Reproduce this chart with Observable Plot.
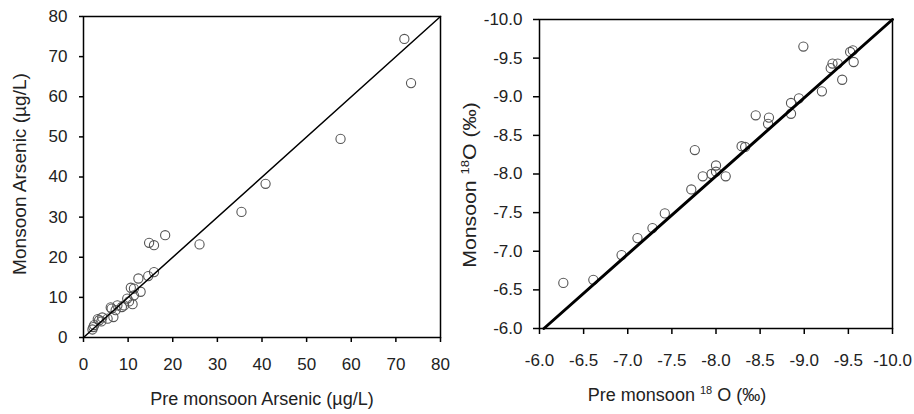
<!DOCTYPE html>
<html><head><meta charset="utf-8">
<script src="https://cdn.jsdelivr.net/npm/d3@7"></script>
<script src="https://cdn.jsdelivr.net/npm/@observablehq/plot@0.6"></script>
<style>
body{margin:0;background:#fff;font-family:"Liberation Sans",Arial,sans-serif;}
#wrap{position:relative;width:914px;height:414px;overflow:hidden;}
.p{position:absolute;top:0;}
.lab{position:absolute;font-size:18px;color:#222;white-space:nowrap;line-height:1;}
.rotL{transform:translate(-50%,-50%) rotate(-90deg) scaleX(1.06);}
.rotR{transform:translate(-50%,-50%) rotate(-90deg) scaleX(1.18);}
.hor{transform:translate(-50%,-50%);}
sup{font-size:11px;vertical-align:7px;line-height:0;}
</style></head><body>
<div id="wrap"></div>
<script>
// Left panel: Arsenic (µg/L)
const arsPre = [71.9,73.4,57.6,40.8,35.4,26.0,18.3,14.7,15.8,15.8,14.5,12.3,12.8,10.6,11.3,11.0,11.3,9.8,9.1,8.6,7.6,6.1,7.2,6.7,5.4,4.2,3.5,3.2,2.4,2.0,6.3,4.0,2.2,10.2];
const arsMon = [74.4,63.4,49.5,38.3,31.3,23.2,25.5,23.6,23.0,16.3,15.3,14.7,11.4,12.4,12.2,8.3,10.5,9.7,8.0,7.6,8.0,7.5,6.8,5.1,4.7,5.0,4.3,4.6,3.1,2.0,7.2,4.0,2.6,9.0];
const arsLineX = [0,80];
const arsLineY = [0,80];
const arsTicks = [0,10,20,30,40,50,60,70,80];

// Right panel: δ18O (‰)
const oPre = [-6.27,-6.61,-6.93,-7.11,-7.28,-7.42,-7.72,-7.76,-7.85,-7.95,-8.00,-8.00,-8.11,-8.29,-8.33,-8.45,-8.60,-8.59,-8.85,-8.85,-8.94,-8.99,-9.20,-9.30,-9.32,-9.38,-9.43,-9.52,-9.55,-9.56];
const oMon = [-6.59,-6.63,-6.95,-7.17,-7.30,-7.49,-7.80,-8.31,-7.97,-8.00,-8.11,-8.03,-7.97,-8.36,-8.35,-8.76,-8.73,-8.65,-8.78,-8.92,-8.98,-9.65,-9.07,-9.37,-9.43,-9.43,-9.22,-9.58,-9.60,-9.45];
const oLineX = [-6.05,-10];
const oLineY = [-6,-10];
const oTicks = [-6,-6.5,-7,-7.5,-8,-8.5,-9,-9.5,-10];

const style = {fontSize:"17px",fontFamily:"Liberation Sans, Arial, sans-serif",color:"#222",background:"transparent",overflow:"visible"};
const fs = 17;
const wrap = document.getElementById("wrap");

const left = Plot.plot({
  width:450,height:414,marginTop:16,marginBottom:77,marginLeft:83,marginRight:10,
  style,
  x:{domain:[0,80]},
  y:{domain:[0,80]},
  marks:[
    Plot.axisX({ticks:arsTicks,tickSize:5,tickPadding:15,label:null,fontSize:fs,stroke:"#000",strokeWidth:1.5}),
    Plot.axisY({ticks:arsTicks,tickSize:4,tickPadding:12,label:null,fontSize:fs,stroke:"#000",strokeWidth:1.5}),
    Plot.dot(arsPre.map((d,i)=>({x:d,y:arsMon[i]})),{x:"x",y:"y",r:4.6,stroke:"#555",strokeWidth:1.1,fill:"none"}),
    Plot.line(arsLineX.map((d,i)=>({x:d,y:arsLineY[i]})),{x:"x",y:"y",stroke:"#000",strokeWidth:1.5}),
    Plot.frame({stroke:"#000",strokeWidth:1.5})
  ]
});
left.classList.add("p"); left.style.left="0px";
wrap.appendChild(left);

const right = Plot.plot({
  width:454,height:414,marginTop:19,marginBottom:86,marginLeft:79,marginRight:22,
  style,
  x:{domain:[-6,-10]},
  y:{domain:[-6,-10]},
  marks:[
    Plot.axisX({ticks:oTicks,tickSize:6,tickPadding:19,label:null,fontSize:fs,tickFormat:d=>d.toFixed(1),stroke:"#000",strokeWidth:1.5}),
    Plot.axisY({ticks:oTicks,tickSize:6,tickPadding:11,label:null,fontSize:fs,tickFormat:d=>d.toFixed(1),stroke:"#000",strokeWidth:1.5}),
    Plot.dot(oPre.map((d,i)=>({x:d,y:oMon[i]})),{x:"x",y:"y",r:4.6,stroke:"#555",strokeWidth:1.1,fill:"none"}),
    Plot.line(oLineX.map((d,i)=>({x:d,y:oLineY[i]})),{x:"x",y:"y",stroke:"#000",strokeWidth:3}),
    Plot.frame({stroke:"#000",strokeWidth:1.5})
  ]
});
right.classList.add("p"); right.style.left="460px";
wrap.appendChild(right);

function lab(html,x,y,cls){const d=document.createElement("div");d.className="lab "+cls;d.innerHTML=html;d.style.left=x+"px";d.style.top=y+"px";wrap.appendChild(d);}
lab("Monsoon Arsenic (µg/L)",20,174,"rotL");
lab("Pre monsoon Arsenic (µg/L)",262,399,"hor");
lab("Monsoon <sup>18</sup>O (‰)",470,185,"rotR");
lab("Pre monsoon <sup>18</sup> O (‰)",677,395,"hor");
</script>
</body></html>
